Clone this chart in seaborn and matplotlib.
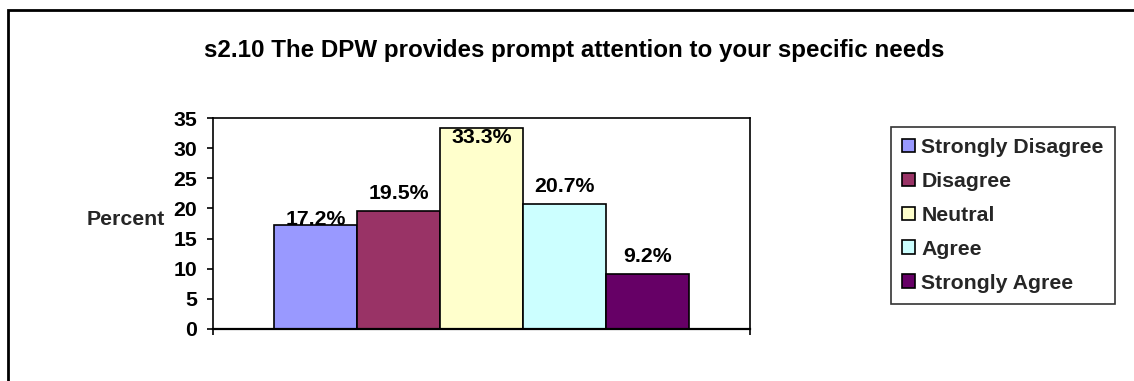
import matplotlib
matplotlib.use("Agg")
import matplotlib.pyplot as plt
from matplotlib.patches import Rectangle
import seaborn as sns
import pandas as pd

# Survey item and response shares (percent)
title = "s2.10 The DPW provides prompt attention to your specific needs"
responses = ["Strongly Disagree", "Disagree", "Neutral", "Agree", "Strongly Agree"]
percents = [17.2, 19.5, 33.3, 20.7, 9.2]
value_labels = ["17.2%", "19.5%", "33.3%", "20.7%", "9.2%"]
y_ticks = [0, 5, 10, 15, 20, 25, 30, 35]

colors = ["#9999FF", "#993366", "#FFFFCC", "#CCFFFF", "#660066"]
# vertical nudge of each value label above its bar top, in points
label_nudge = [0.0, 8.6, -10.8, 8.6, 8.6]

FS = 15.3

sns.set_theme(style="white")
plt.rcParams["font.family"] = ["Liberation Sans", "DejaVu Sans"]
plt.rcParams["font.weight"] = "bold"

W, H = 1134, 381
fig = plt.figure(figsize=(W / 100, H / 100), dpi=100)
fig.patch.set_facecolor("white")

# outer chart frame (runs past the right and bottom edges)
fig.patches.append(Rectangle((8 / W, -0.2), 1.5, 1 - 10 / H + 0.2,
                             transform=fig.transFigure, fill=False,
                             edgecolor="black", linewidth=2.0, clip_on=False))

left, right, top, bottom = 213, 750, 118, 329
ax = fig.add_axes([left / W, 1 - bottom / H, (right - left) / W, (bottom - top) / H])

df = pd.DataFrame({"group": [""] * len(responses), "response": responses, "percent": percents})
sns.barplot(data=df, x="group", y="percent", hue="response", hue_order=responses,
            palette=colors, width=0.771, edgecolor="black", linewidth=1.2,
            saturation=1, ax=ax)

ax.set_xlim(-0.5, 0.5)
ax.set_ylim(0, 35)
ax.set_yticks(y_ticks)
ax.set_yticklabels([str(t) for t in y_ticks], fontsize=FS, fontweight="bold")
ax.set_xticks([-0.5, 0.5])
ax.set_xticklabels(["", ""])
ax.set_xlabel("")
ax.tick_params(axis="y", direction="out", length=4.5, width=1.2, pad=7, left=True, colors="black")
ax.tick_params(axis="x", direction="out", length=4.5, width=1.2, bottom=True, colors="black")
ax.set_ylabel("Percent", rotation=0, fontsize=FS, fontweight="bold", ha="center", va="center")
ax.yaxis.set_label_coords(-0.162, 0.521)
for side in ["left", "top", "right"]:
    ax.spines[side].set_color("black")
    ax.spines[side].set_linewidth(1.2)
ax.spines["bottom"].set_color("black")
ax.spines["bottom"].set_linewidth(1.6)
ax.grid(False)

# value labels above each bar
bars = [c.patches[0] for c in ax.containers]
for bar, txt, dy in zip(bars, value_labels, label_nudge):
    ax.annotate(txt, (bar.get_x() + bar.get_width() / 2, bar.get_height()),
                xytext=(0, dy), textcoords="offset points", ha="center", va="baseline",
                fontsize=FS, fontweight="bold", color="black", zorder=5)

handles, labels = ax.get_legend_handles_labels()
if ax.get_legend() is not None:
    ax.get_legend().remove()
leg = fig.legend(handles, labels, loc="upper left", bbox_to_anchor=(891 / W, 1 - 127 / H),
                 frameon=True, fancybox=False, fontsize=FS, borderpad=0.52,
                 labelspacing=0.7, handlelength=0.6, handleheight=0.6,
                 handletextpad=0.3, borderaxespad=0)
leg.get_frame().set_edgecolor("black")
leg.get_frame().set_linewidth(1.2)
for t in leg.get_texts():
    t.set_fontweight("bold")
for h in leg.legend_handles:
    h.set_edgecolor("black")
    h.set_linewidth(1.2)

fig.text(574.5 / W, 1 - 51 / H, title, ha="center", va="center",
         fontsize=17.4, fontweight="bold", color="black")

fig.savefig("out.png", dpi=100, facecolor="white")
